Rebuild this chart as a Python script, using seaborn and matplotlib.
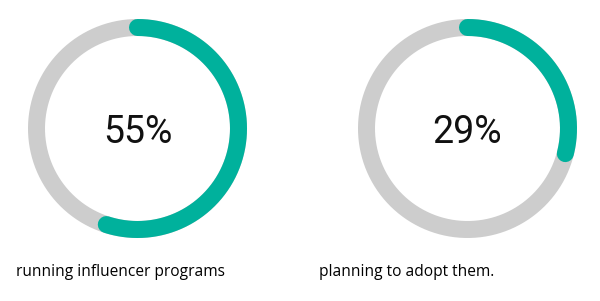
import numpy as np
import pandas as pd
import matplotlib
matplotlib.use("Agg")
import matplotlib.pyplot as plt
import seaborn as sns

# data
labels = ["running influencer programs", "planning to adopt them."]
shares = [55, 29]
value_texts = ["55%", "29%"]

TEAL = "#00B19C"
GRAY = "#CDCDCD"

sns.set_theme(style="white")
plt.rcParams['font.family'] = ['Open Sans', 'DejaVu Sans']

W, H = 600, 301
fig = plt.figure(figsize=(W / 100, H / 100), dpi=100)
fig.patch.set_facecolor("white")

centers = [(137.5, 128.5), (467.5, 128.5)]
r_line = 101.0
rmax = 1.2
lw_pt = 17 * 72 / 100

for (cx, cy), share, vt, lab in zip(centers, shares, value_texts, labels):
    R = r_line * rmax
    ax = fig.add_axes([(cx - R) / W, (H - cy - R) / H, 2 * R / W, 2 * R / H],
                      projection="polar")
    ax.set_theta_zero_location("N")
    ax.set_theta_direction(-1)
    ax.set_ylim(0, rmax)
    full = pd.DataFrame({"theta": np.linspace(0, 2 * np.pi, 400), "r": 1.0})
    sns.lineplot(data=full, x="theta", y="r", ax=ax, color=GRAY,
                 linewidth=lw_pt, sort=False, estimator=None)
    arc_theta = np.linspace(0, 2 * np.pi * share / 100, 300)
    arc = pd.DataFrame({"theta": arc_theta, "r": 1.0})
    sns.lineplot(data=arc, x="theta", y="r", ax=ax, color=TEAL,
                 linewidth=lw_pt, sort=False, estimator=None,
                 solid_capstyle="round")
    ax.set_axis_off()
    ax.text(0.5, 0.485, vt, transform=ax.transAxes, ha="center", va="center",
            fontsize=27, family=["Roboto", "DejaVu Sans"], fontweight="normal",
            color="#111111")

label_x = [120, 407]
for lx, lab in zip(label_x, labels):
    fig.text(lx / W, 1 - 272 / H, lab, ha="center", va="center",
             fontsize=11.2, color="#000000")

fig.savefig("out.png", dpi=100, facecolor="white")
